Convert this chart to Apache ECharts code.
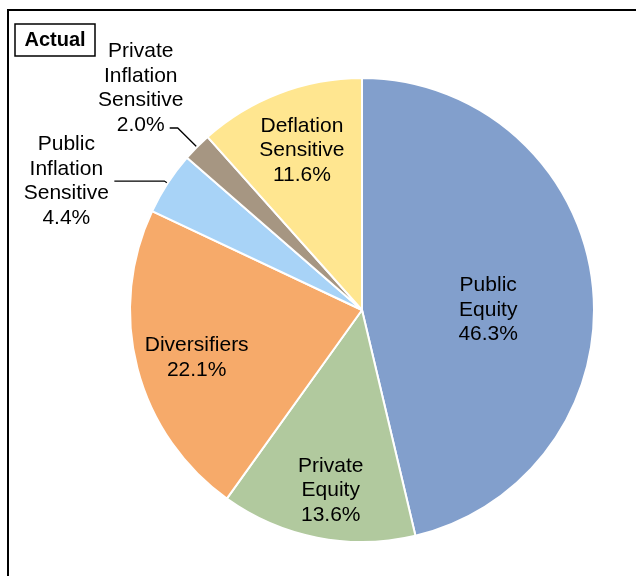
<!DOCTYPE html>
<html>
<head>
<meta charset="utf-8">
<script src="https://cdn.jsdelivr.net/npm/echarts@6/dist/echarts.min.js"></script>
<style>
html,body{margin:0;padding:0;background:#fff;}
#chart{width:636px;height:576px;}
</style>
</head>
<body>
<div id="chart"></div>
<script>
const categories = ['Public\nEquity', 'Private\nEquity', 'Diversifiers', 'Public\nInflation\nSensitive', 'Private\nInflation\nSensitive', 'Deflation\nSensitive'];
const values = [46.3, 13.6, 22.1, 4.4, 2.0, 11.6];
const colors = ['#829FCC', '#B1C99E', '#F6AA6A', '#A8D3F7', '#A69682', '#FFE690'];
const titleText = 'Actual';

// which labels go where
const mainInside = [0];
const outside = [3, 4];
const ringInside = [1, 2, 5];

const FONT = '"Liberation Sans", Arial, sans-serif';
const FS = 21;
const fmt = p => p.name + '\n' + p.value.toFixed(1) + '%';

const leaderLen = { 3: [4, 50], 4: [27, 8] };

const mainData = categories.map((name, i) => {
  const item = { name, value: values[i], itemStyle: { color: colors[i] } };
  if (mainInside.includes(i)) {
    item.label = { show: true, position: 'inside' };
    item.labelLine = { show: false };
  } else if (outside.includes(i)) {
    item.label = { show: true, position: 'outside' };
    item.labelLine = { show: true, length: leaderLen[i][0], length2: leaderLen[i][1] };
  } else {
    item.label = { show: false };
    item.labelLine = { show: false };
  }
  return item;
});

const ringData = categories.map((name, i) => ({
  name, value: values[i],
  label: { show: ringInside.includes(i) }
}));

const chart = echarts.init(document.getElementById('chart'));
chart.setOption({
  animation: false,
  backgroundColor: '#fff',
  graphic: [
    { type: 'rect', shape: { x: 8, y: 10, width: 700, height: 700 }, style: { fill: 'none', stroke: '#000', lineWidth: 2 }, z: 0 },
    { type: 'rect', shape: { x: 15, y: 24, width: 80, height: 32 }, style: { fill: '#fff', stroke: '#000', lineWidth: 1.5 }, z: 10 },
    { type: 'text', x: 55, y: 40, style: { text: titleText, font: 'bold 20px ' + FONT, fill: '#000', align: 'center', verticalAlign: 'middle' }, z: 11 }
  ],
  series: [
    {
      type: 'pie',
      center: [362, 310],
      radius: [0, 232],
      startAngle: 90,
      clockwise: true,
      avoidLabelOverlap: false,
      emphasis: { disabled: true },
      itemStyle: { borderColor: '#fff', borderWidth: 2 },
      label: { color: '#000', fontFamily: FONT, fontSize: FS, lineHeight: 24.5, formatter: fmt, distanceToLabelLine: 5 },
      labelLine: { lineStyle: { color: '#000', width: 1.3 }, smooth: false },
      labelLayout: function (p) {
        if (p.dataIndex === 4) return { align: 'center', dx: -24, dy: -40 };
        if (p.dataIndex === 3) return { align: 'center', dx: -43, dy: 0 };
        if (p.dataIndex === 0) return { dx: 8, dy: 14 };
        return {};
      },
      data: mainData
    },
    {
      type: 'pie',
      center: [362, 310],
      radius: [116, 232],
      startAngle: 90,
      clockwise: true,
      silent: true,
      avoidLabelOverlap: false,
      emphasis: { disabled: true },
      itemStyle: { color: 'rgba(0,0,0,0)', borderWidth: 0 },
      label: { position: 'inside', color: '#000', fontFamily: FONT, fontSize: FS, lineHeight: 24.5, formatter: fmt },
      labelLine: { show: false },
      labelLayout: function (p) {
        if (p.dataIndex === 5) return { dx: 3, dy: 6 };
        if (p.dataIndex === 1) return { dx: 3, dy: 7 };
        if (p.dataIndex === 2) return { dx: 6, dy: 3 };
        return {};
      },
      data: ringData
    }
  ]
});
</script>
</body>
</html>
